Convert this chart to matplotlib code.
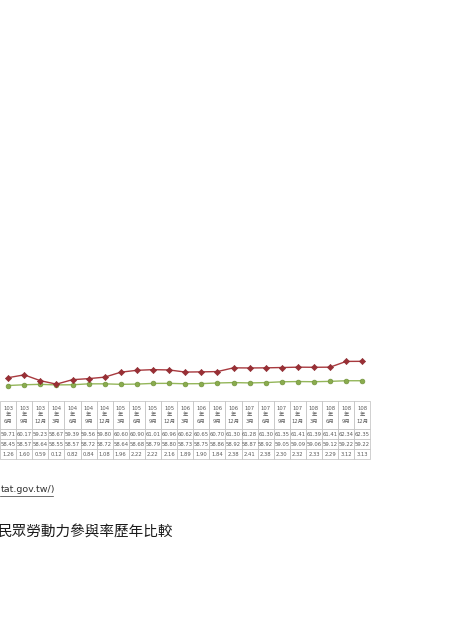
import numpy as np
import matplotlib.pyplot as plt
from matplotlib.lines import Line2D

# 季別 (民國年 / 月)
years = [103, 103, 103, 104, 104, 104, 104, 105, 105, 105, 105, 106,
         106, 106, 106, 107, 107, 107, 107, 108, 108, 108, 108]
months = [6, 9, 12, 3, 6, 9, 12, 3, 6, 9, 12, 3,
          6, 9, 12, 3, 6, 9, 12, 3, 6, 9, 12]

# 勞動力參與率 (%)
rate_a = [59.71, 60.17, 59.23, 58.67, 59.39, 59.56, 59.80, 60.60, 60.90, 61.01, 60.96, 60.62,
          60.65, 60.70, 61.30, 61.28, 61.30, 61.35, 61.41, 61.39, 61.41, 62.34, 62.35]
rate_b = [58.45, 58.57, 58.64, 58.55, 58.57, 58.72, 58.72, 58.64, 58.68, 58.79, 58.80, 58.73,
          58.75, 58.86, 58.92, 58.87, 58.92, 59.05, 59.09, 59.06, 59.12, 59.22, 59.22]
gap = [1.26, 1.60, 0.59, 0.12, 0.82, 0.84, 1.08, 1.96, 2.22, 2.22, 2.16, 1.89,
       1.90, 1.84, 2.38, 2.41, 2.38, 2.30, 2.32, 2.33, 2.29, 3.12, 3.13]

W, H = 452, 640
col_w = 16.1      # px per column
x0 = 8.1          # px centre of first column
y_ref, v_ref, px_per = 377.7, 59.71, 6.2   # value -> pixel mapping

fig = plt.figure(figsize=(W / 100, H / 100), dpi=100)
fig.patch.set_facecolor('white')

# lines
ax = fig.add_axes([0, 0, 1, 1])
ax.set_xlim(-x0 / col_w, (W - x0) / col_w)
ax.set_ylim(v_ref - (H - y_ref) / px_per, v_ref + y_ref / px_per)
ax.axis('off')

xs = np.arange(len(rate_a))
ax.plot(xs, rate_b, color='#94B65A', lw=1.0, marker='o', ms=3.4,
        mfc='#8AAC4E', mec='#74953E', mew=0.5, zorder=3)
ax.plot(xs, rate_a, color='#A8393E', lw=1.0, marker='D', ms=3.2,
        mfc='#9A2F35', mec='#8A2A30', mew=0.4, zorder=4)

# data table
tax = fig.add_axes([0, 1 - 459 / H, (col_w * len(years)) / W, 58 / H])
tax.axis('off')
headers = [f"{y}\n年\n{m}月" for y, m in zip(years, months)]
cells = [[f"{v:.2f}" for v in rate_a],
         [f"{v:.2f}" for v in rate_b],
         [f"{v:.2f}" for v in gap]]
tbl = tax.table(cellText=cells, colLabels=headers, cellLoc='center', bbox=[0, 0, 1, 1])
tbl.auto_set_font_size(False)
tbl.set_fontsize(3.8)
for (r, c), cell in tbl.get_celld().items():
    cell.set_edgecolor('#BDBDBD')
    cell.set_linewidth(0.5)
    cell.set_height(28 if r == 0 else 10)
    t = cell.get_text()
    t.set_color('#595959')
    t.set_fontfamily(['DejaVu Sans', 'Noto Sans CJK TC'])
    if r == 0:
        t.set_linespacing(1.35)

# source line (cut off at left edge)
fig.text(0.5 / W, 1 - 490 / H, "tat.gov.tw/)", fontsize=6.8, va='center',
         color='#333333', family=['DejaVu Sans'])
fig.add_artist(Line2D([0, 53 / W], [1 - 496 / H] * 2, lw=0.5, color='#333333'))

# caption
fig.text(173 / W, 1 - 532.5 / H, "民眾勞動力參與率歷年比較", ha='right', va='center',
         fontsize=10.5, color='#1A1A1A', family=['Noto Sans CJK TC', 'DejaVu Sans'])

fig.savefig('out.png', dpi=100, facecolor='white')
